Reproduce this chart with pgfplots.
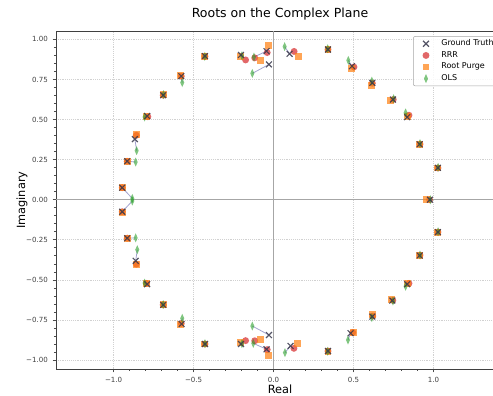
\documentclass[border=0pt]{standalone}
\usepackage{pgfplots}
\pgfplotsset{compat=1.18}
\usepackage{pgfplotstable}
\usepackage{fontspec}
\setmainfont{DejaVu Sans}
\definecolor{gtcol}{RGB}{55,55,75}
\definecolor{rrrcol}{HTML}{D62728}
\definecolor{rpcol}{HTML}{FF7F0E}
\definecolor{olscol}{HTML}{2CA02C}
\definecolor{linkcol}{RGB}{140,140,195}

% gx gy: ground truth; rx ry: RRR; px py: Root Purge; ox oy: OLS
\pgfplotstableread{
gx gy rx ry px py ox oy
-0.946 0.075 -0.946 0.075 -0.946 0.078 -0.883 0.008
-0.915 0.240 -0.915 0.240 -0.912 0.240 -0.862 0.235
-0.867 0.378 -0.858 0.402 -0.858 0.406 -0.856 0.306
-0.790 0.522 -0.786 0.518 -0.792 0.520 -0.806 0.516
-0.690 0.652 -0.690 0.652 -0.690 0.654 -0.688 0.656
-0.577 0.771 -0.577 0.770 -0.579 0.775 -0.571 0.731
-0.429 0.896 -0.429 0.894 -0.429 0.896 -0.430 0.894
-0.204 0.903 -0.175 0.872 -0.206 0.893 -0.198 0.898
-0.044 0.927 -0.040 0.918 -0.033 0.962 -0.123 0.890
-0.029 0.844 -0.118 0.885 -0.081 0.868 -0.133 0.788
0.100 0.910 0.128 0.925 0.155 0.896 0.069 0.955
0.340 0.937 0.340 0.937 0.340 0.935 0.338 0.942
0.490 0.833 0.502 0.828 0.488 0.820 0.467 0.869
0.617 0.729 0.617 0.727 0.613 0.715 0.614 0.740
0.746 0.625 0.748 0.625 0.731 0.619 0.750 0.630
0.835 0.515 0.846 0.527 0.838 0.522 0.825 0.542
0.913 0.346 0.915 0.346 0.910 0.344 0.915 0.350
1.027 0.199 1.027 0.198 1.025 0.198 1.028 0.202
0.977 0.000 0.975 0.000 0.958 0.000 0.980 0.000
-0.946 -0.075 -0.946 -0.075 -0.946 -0.078 -0.883 -0.008
-0.915 -0.240 -0.915 -0.240 -0.912 -0.240 -0.862 -0.238
-0.862 -0.381 -0.858 -0.402 -0.858 -0.406 -0.852 -0.312
-0.790 -0.527 -0.794 -0.522 -0.794 -0.524 -0.806 -0.520
-0.690 -0.656 -0.690 -0.656 -0.690 -0.656 -0.690 -0.654
-0.575 -0.775 -0.577 -0.772 -0.579 -0.777 -0.571 -0.740
-0.429 -0.900 -0.429 -0.900 -0.429 -0.900 -0.429 -0.898
-0.204 -0.900 -0.175 -0.879 -0.206 -0.893 -0.198 -0.898
-0.044 -0.933 -0.040 -0.935 -0.029 -0.969 -0.127 -0.896
-0.029 -0.844 -0.118 -0.880 -0.081 -0.871 -0.133 -0.788
0.106 -0.912 0.127 -0.927 0.152 -0.896 0.071 -0.954
0.340 -0.944 0.340 -0.944 0.340 -0.944 0.338 -0.946
0.481 -0.833 0.495 -0.828 0.498 -0.829 0.465 -0.875
0.617 -0.729 0.620 -0.726 0.619 -0.718 0.614 -0.735
0.742 -0.629 0.745 -0.628 0.735 -0.622 0.746 -0.632
0.835 -0.527 0.846 -0.522 0.838 -0.520 0.825 -0.540
0.913 -0.348 0.915 -0.346 0.910 -0.350 0.915 -0.345
1.027 -0.202 1.027 -0.202 1.027 -0.202 1.028 -0.200
}\roots

\pgfplotsset{
  gtstyle/.style={only marks, mark=x, mark size=3.1pt, mark options={draw=gtcol, line width=0.85pt, draw opacity=0.85}},
  rrrstyle/.style={only marks, mark=*, mark size=2.6pt, mark options={fill=rrrcol, fill opacity=0.7, draw opacity=0}},
  rpstyle/.style={only marks, mark=square*, mark size=2.6pt, mark options={fill=rpcol, fill opacity=0.7, draw opacity=0}},
  olsstyle/.style={only marks, mark=diamond*, mark size=3.4pt, mark options={xscale=0.6, fill=olscol, fill opacity=0.6, draw opacity=0}},
}

\begin{document}
\begin{tikzpicture}
\useasboundingbox (0,0) rectangle (369.75pt,297pt);
\clip (0,0) rectangle (369.75pt,297pt);
\begin{axis}[
  at={(42pt,20.25pt)}, anchor=south west,
  scale only axis, width=336pt, height=253.2pt,
  xmin=-1.36, xmax=1.44, ymin=-1.056, ymax=1.05,
  xtick={-1,-0.5,0,0.5,1},
  xticklabels={−1.0,−0.5,0.0,0.5,1.0},
  ytick={-1,-0.75,-0.5,-0.25,0,0.25,0.5,0.75,1},
  yticklabels={−1.00,−0.75,−0.50,−0.25,0.00,0.25,0.50,0.75,1.00},
  minor x tick num=4, minor y tick num=4,
  tick align=outside, xtick pos=left, ytick pos=left,
  major tick length=2.6pt, minor tick length=1.5pt,
  every tick/.style={black!70, line width=0.5pt},
  grid=major, major grid style={densely dotted, black!18, line width=0.5pt},
  axis line style={black!75, line width=0.6pt},
  tick label style={font=\fontsize{5.3}{6}\selectfont, text=black!75},
  every axis title shift=0pt,
  title={Roots on the Complex Plane},
  title style={font=\fontsize{9.4}{11}\selectfont, at={(axis description cs:0.5,1.04)}, anchor=base},
  xlabel={Real}, ylabel={Imaginary},
  xlabel style={font=\fontsize{8.5}{10}\selectfont, at={(axis description cs:0.5,-0.0711)}, anchor=base},
  ylabel style={font=\fontsize{8.5}{10}\selectfont, at={(axis description cs:-0.0759,0.5)}, anchor=center},
  legend image code/.code={\path[draw=none, fill=none] (-8pt,-0.1pt) rectangle (10pt,0.1pt); \draw[#1, draw=none] plot coordinates {(0pt,0pt)};},
  legend style={at={(axis description cs:0.797,0.986)}, anchor=north west,
    draw=black!35, rounded corners=1.5pt, fill=white, fill opacity=0.85, text opacity=1,
    font=\fontsize{6}{7}\selectfont, inner xsep=1.5pt, inner ysep=1.5pt, row sep=0.8pt,
    nodes={inner ysep=1pt, inner xsep=1.5pt}},
  legend cell align=left,
]
\draw[black!35, line width=0.8pt] (axis cs:0,-1.056) -- (axis cs:0,1.05);
\draw[black!35, line width=0.8pt] (axis cs:-1.36,0) -- (axis cs:1.44,0);
\addlegendimage{gtstyle}
\addlegendimage{rrrstyle}
\addlegendimage{rpstyle}
\addlegendimage{olsstyle}
\addplot[forget plot, linkcol, line width=0.6pt, opacity=0.8,
  quiver={u=\thisrow{ox}-\thisrow{gx}, v=\thisrow{oy}-\thisrow{gy}}]
  table[x=gx, y=gy] {\roots};
\addplot[forget plot, rrrstyle] table[x=rx, y=ry] {\roots};
\addplot[forget plot, rpstyle] table[x=px, y=py] {\roots};
\addplot[forget plot, olsstyle] table[x=ox, y=oy] {\roots};
\addplot[forget plot, gtstyle] table[x=gx, y=gy] {\roots};
\legend{Ground Truth, RRR, Root Purge, OLS}
\end{axis}
\end{tikzpicture}
\end{document}
